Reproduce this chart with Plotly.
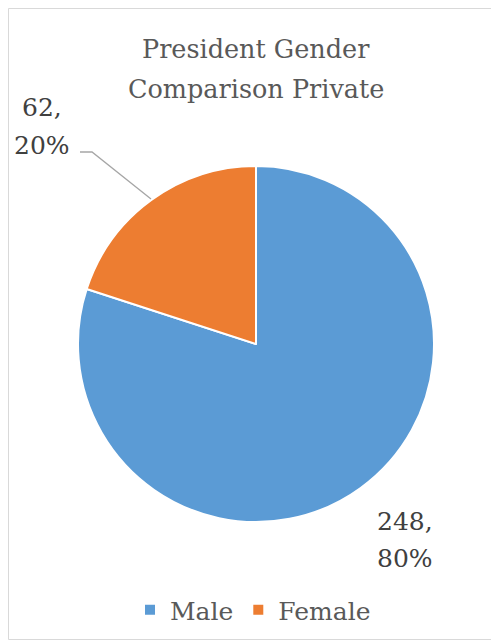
import plotly.graph_objects as go

labels = ["Male", "Female"]
values = [248, 62]
colors = ["#5B9BD5", "#ED7D31"]
title_lines = ["President Gender", "Comparison Private"]

OFF = 8  # page body margin
W, H = 499 - OFF, 643 - OFF
total = sum(values)
pct = [round(v / total * 100) for v in values]
label_lines = [[f"{v},", f"{p}%"] for v, p in zip(values, pct)]

def px(x):
    return (x - OFF) / W

def py(y):
    return 1 - (y - OFF) / H

SERIF = "DejaVu Serif"

fig = go.Figure()
fig.add_trace(go.Pie(
    labels=labels, values=values, sort=False, direction="clockwise", rotation=0,
    marker=dict(colors=colors, line=dict(color="white", width=2)),
    textinfo="none", hoverinfo="label+value+percent",
    domain=dict(x=[px(78), px(434)], y=[py(522), py(166)]),
    showlegend=True,
))

def add_text(x, y, text, size, color):
    fig.add_annotation(x=px(x), y=py(y), xref="paper", yref="paper", text=text,
                       showarrow=False, font=dict(family=SERIF, size=size, color=color),
                       align="center", xanchor="center", yanchor="middle")

add_text(256, 49, title_lines[0], 25.5, "#595959")
add_text(256, 89, title_lines[1], 25.5, "#595959")
add_text(42, 107, label_lines[1][0], 25, "#404040")
add_text(42, 145, label_lines[1][1], 25, "#404040")
add_text(405, 521, label_lines[0][0], 25, "#404040")
add_text(405, 558, label_lines[0][1], 25, "#404040")

fig.add_shape(type="path", xref="paper", yref="paper",
              path=f"M {px(80)} {py(152)} L {px(92)} {py(152)} L {px(151)} {py(199)}",
              line=dict(color="#A6A6A6", width=1.3))
fig.add_shape(type="rect", xref="paper", yref="paper", x0=px(8.5), x1=px(494.5), y0=py(639.5), y1=py(8.5),
              line=dict(color="#D9D9D9", width=1))

fig.update_layout(
    width=W, height=H, margin=dict(l=0, r=0, t=0, b=0),
    paper_bgcolor="white", plot_bgcolor="white",
    legend=dict(orientation="h", x=px(130), xanchor="left", y=py(610), yanchor="middle",
                font=dict(family=SERIF, size=25, color="#595959"),
                itemwidth=30, traceorder="normal"),
)
fig.write_html("out.html")
